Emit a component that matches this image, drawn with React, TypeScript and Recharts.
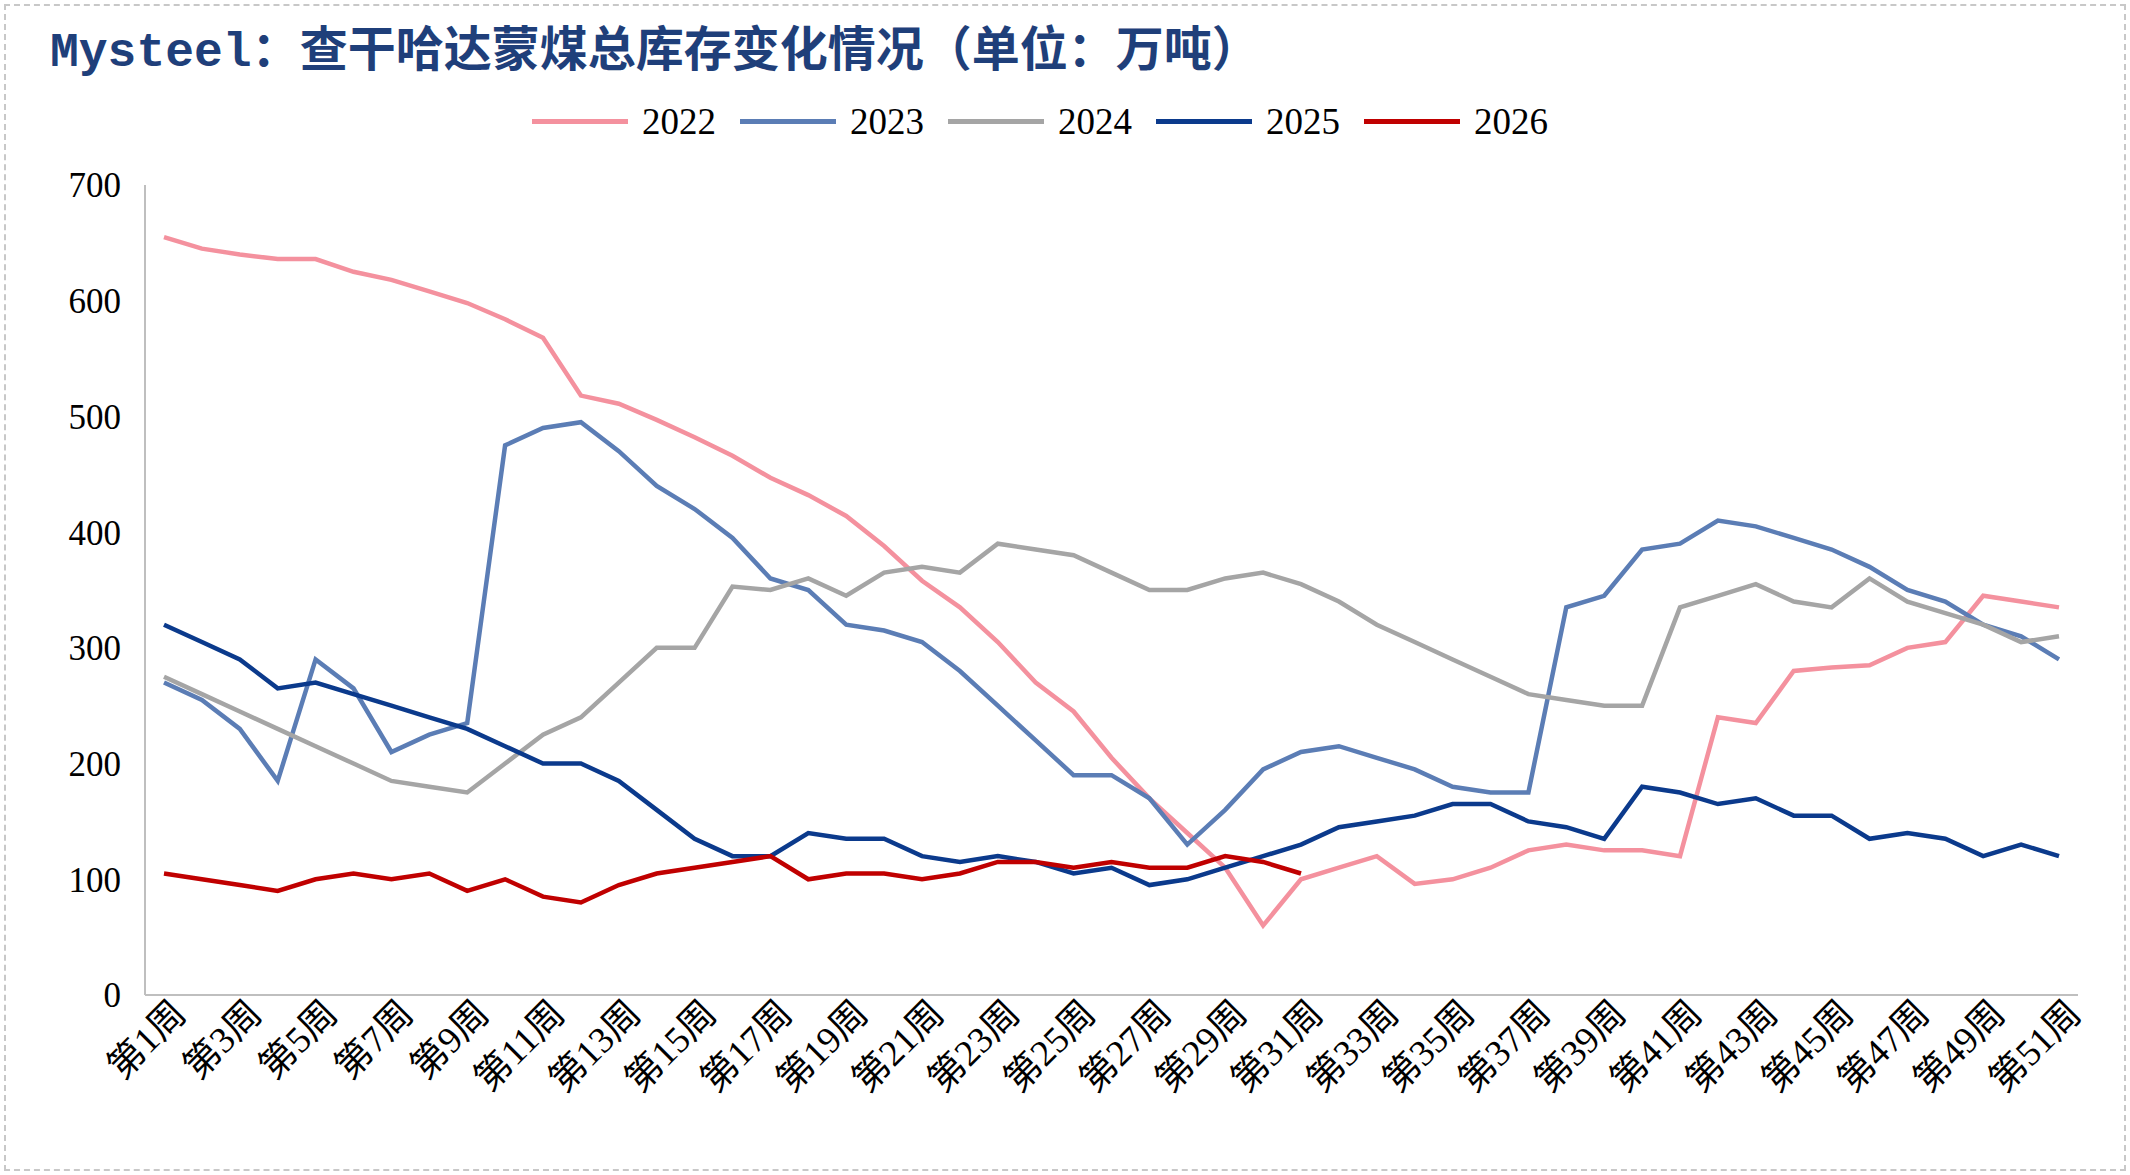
import { LineChart, Line, XAxis, YAxis } from "recharts";

const weeks = Array.from({ length: 51 }, (_, i) => `第${i + 1}周`);

const s2022 = [655, 645, 640, 636, 636, 625, 618, 608, 598, 584, 568, 518, 511, 497, 482, 466, 447, 432, 414, 388, 358, 335, 305, 270, 245, 205, 170, 140, 110, 60, 100, 110, 120, 96, 100, 110, 125, 130, 125, 125, 120, 240, 235, 280, 283, 285, 300, 305, 345, 340, 335];
const s2023 = [270, 255, 230, 185, 290, 265, 210, 225, 235, 475, 490, 495, 470, 440, 420, 395, 360, 350, 320, 315, 305, 280, 250, 220, 190, 190, 170, 130, 160, 195, 210, 215, 205, 195, 180, 175, 175, 335, 345, 385, 390, 410, 405, 395, 385, 370, 350, 340, 320, 310, 290];
const s2024 = [275, 260, 245, 230, 215, 200, 185, 180, 175, 200, 225, 240, 270, 300, 300, 353, 350, 360, 345, 365, 370, 365, 390, 385, 380, 365, 350, 350, 360, 365, 355, 340, 320, 305, 290, 275, 260, 255, 250, 250, 335, 345, 355, 340, 335, 360, 340, 330, 320, 305, 310];
const s2025 = [320, 305, 290, 265, 270, 260, 250, 240, 230, 215, 200, 200, 185, 160, 135, 120, 120, 140, 135, 135, 120, 115, 120, 115, 105, 110, 95, 100, 110, 120, 130, 145, 150, 155, 165, 165, 150, 145, 135, 180, 175, 165, 170, 155, 155, 135, 140, 135, 120, 130, 120];
const s2026 = [105, 100, 95, 90, 100, 105, 100, 105, 90, 100, 85, 80, 95, 105, 110, 115, 120, 100, 105, 105, 100, 105, 115, 115, 110, 115, 110, 110, 120, 115, 105];

const yTicks = [0, 100, 200, 300, 400, 500, 600, 700];

const series = [
  { key: "2022", color: "#F4919E", values: s2022 },
  { key: "2023", color: "#5B7DB5", values: s2023 },
  { key: "2024", color: "#A5A5A5", values: s2024 },
  { key: "2025", color: "#0B3A8C", values: s2025 },
  { key: "2026", color: "#C00000", values: s2026 },
];

const data = weeks.map((w, i) => {
  const row: Record<string, string | number | null> = { name: w };
  series.forEach((s) => {
    row[s.key] = i < s.values.length ? s.values[i] : null;
  });
  return row;
});

const font = "'Liberation Serif', 'Noto Sans CJK SC', serif";

const XTick = ({ x, y, payload }: any) => (
  <text
    x={x}
    y={y}
    transform={`rotate(-45 ${x} ${y})`}
    textAnchor="end"
    dy={26}
    dx={8}
    fontSize={37}
    fontFamily={font}
    fill="#000"
  >
    {payload.value}
  </text>
);

const App = () => {
  return (
    <div style={{ position: "absolute", left: 0, top: 0, width: 2130, height: 1175, background: "#fff", fontFamily: font }}>
      <div style={{ position: "absolute", left: 4, top: 4, right: 4, bottom: 4, border: "2px dashed #C8C8C8" }} />
      <div
        style={{
          position: "absolute",
          left: 50,
          top: 10,
          fontSize: 48,
          fontWeight: "bold",
          color: "#1F3F7A",
          fontFamily: "'Liberation Mono', 'Noto Sans CJK SC', monospace",
        }}
      >
        Mysteel：查干哈达蒙煤总库存变化情况（单位：万吨）
      </div>
      <div style={{ position: "absolute", top: 100, left: 0, width: 2080, display: "flex", justifyContent: "center" }}>
        {series.map((s) => (
          <div key={s.key} style={{ display: "flex", alignItems: "center", margin: "0 12px", fontSize: 37 }}>
            <div style={{ width: 96, height: 5, background: s.color, marginRight: 14 }} />
            {s.key}
          </div>
        ))}
      </div>
      <div style={{ position: "absolute", left: 0, top: 0 }}>
        <LineChart width={2130} height={1175} data={data} margin={{ top: 185, right: 52, left: 0, bottom: 0 }}>
          <XAxis
            dataKey="name"
            interval={1}
            height={180}
            padding={{ left: 19, right: 19 }}
            tick={<XTick />}
            tickLine={false}
            axisLine={{ stroke: "#BFBFBF", strokeWidth: 2 }}
          />
          <YAxis
            width={145}
            domain={[0, 700]}
            ticks={yTicks}
            tickLine={false}
            axisLine={{ stroke: "#BFBFBF", strokeWidth: 2 }}
            tick={{ fontSize: 35, fontFamily: font, fill: "#000" }}
            tickMargin={18}
          />
          {series.map((s) => (
            <Line
              key={s.key}
              dataKey={s.key}
              stroke={s.color}
              strokeWidth={4.5}
              dot={false}
              type="linear"
              isAnimationActive={false}
            />
          ))}
        </LineChart>
      </div>
    </div>
  );
};

export default App;
